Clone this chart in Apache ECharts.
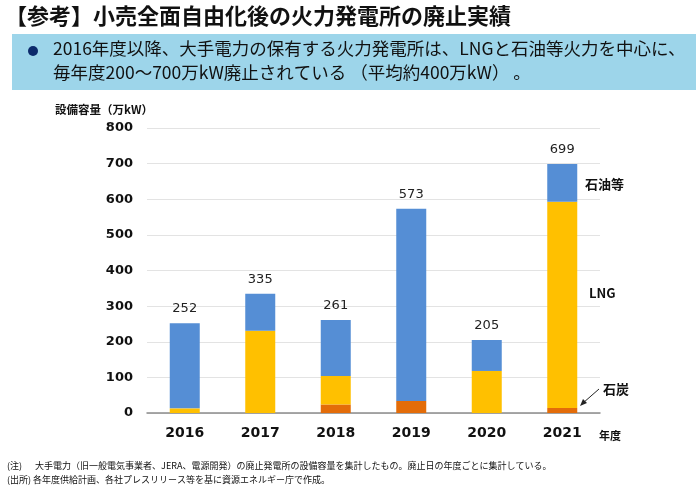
<!DOCTYPE html>
<html><head><meta charset="utf-8">
<script src="https://cdn.jsdelivr.net/npm/echarts@6/dist/echarts.min.js"></script>
<style>html,body{margin:0;padding:0;background:#fff}#c{width:700px;height:490px}</style>
</head><body><div id="c"></div>
<script>
const years = ['2016','2017','2018','2019','2020','2021'];
const coal = [0, 0, 24, 34, 0, 14];
const lng = [13, 231, 80, 0, 118, 579];
const oil = [239, 104, 157, 539, 87, 106];
const totals = [252, 335, 261, 573, 205, 699];
const yTicks = [0, 100, 200, 300, 400, 500, 600, 700, 800];

const JP = '"Noto Sans CJK JP", sans-serif';
const NUM = '"DejaVu Sans", Verdana, sans-serif';
const chart = echarts.init(document.getElementById('c'));
chart.setOption({
  animation: false,
  grid: {left: 147, right: 100, top: 128, bottom: 77},
  xAxis: {
    type: 'category', data: years,
    axisTick: {show: false},
    axisLine: {lineStyle: {color: '#8c8c8c', width: 1.5}},
    axisLabel: {color: '#111', fontWeight: 'bold', fontSize: 14, fontFamily: NUM, margin: 13}
  },
  yAxis: {
    type: 'value', min: yTicks[0], max: yTicks[yTicks.length - 1], interval: 100,
    axisLine: {show: false}, axisTick: {show: false},
    splitLine: {lineStyle: {color: '#e3e3e3', width: 1}},
    axisLabel: {color: '#111', fontWeight: 'bold', fontSize: 13, fontFamily: NUM, margin: 14}
  },
  series: [
    {name: '石炭', type: 'bar', stack: 'a', data: coal, barWidth: 30, itemStyle: {color: '#E36C09'}},
    {name: 'LNG', type: 'bar', stack: 'a', data: lng, barWidth: 30, itemStyle: {color: '#FFC000'}},
    {name: '石油等', type: 'bar', stack: 'a', data: oil, barWidth: 30, itemStyle: {color: '#558ED5'},
      label: {show: true, position: 'top', distance: 8, color: '#222', fontSize: 13, fontFamily: NUM,
        formatter: p => String(totals[p.dataIndex])}}
  ],
  graphic: [
    {type: 'text', left: 5, top: 5, style: {text: '【参考】小売全面自由化後の火力発電所の廃止実績', font: 'bold 22px ' + JP, fill: '#111'}},
    {type: 'rect', shape: {x: 12, y: 34, width: 684, height: 56}, style: {fill: '#9DD5EA'}},
    {type: 'circle', shape: {cx: 33, cy: 51, r: 5}, style: {fill: '#0B2A6B'}},
    {type: 'text', left: 53, top: 40, style: {text: '2016年度以降、大手電力の保有する火力発電所は、LNGと石油等火力を中心に、', font: '17.5px ' + JP, fill: '#111'}},
    {type: 'text', left: 53, top: 64, style: {text: '毎年度200～700万kW廃止されている （平均約400万kW） 。', font: '17.5px ' + JP, fill: '#111'}},
    {type: 'text', left: 55, top: 104, style: {text: '設備容量（万kW）', font: 'bold 11.5px ' + JP, fill: '#111'}},
    {type: 'text', left: 585, top: 178, style: {text: '石油等', font: 'bold 13px ' + JP, fill: '#111'}},
    {type: 'text', left: 589, top: 287, style: {text: 'LNG', font: 'bold 13px ' + JP, fill: '#111'}},
    {type: 'text', left: 603, top: 383, style: {text: '石炭', font: 'bold 13px ' + JP, fill: '#111'}},
    {type: 'line', shape: {x1: 599, y1: 389, x2: 583, y2: 403}, style: {stroke: '#222', lineWidth: 1}},
    {type: 'polygon', shape: {points: [[580, 406], [583, 399], [587, 403]]}, style: {fill: '#222'}},
    {type: 'text', left: 599, top: 430, style: {text: '年度', font: 'bold 11px ' + JP, fill: '#111'}},
    {type: 'text', left: 7, top: 461, style: {text: '(注)　  大手電力（旧一般電気事業者、JERA、電源開発）の廃止発電所の設備容量を集計したもの。廃止日の年度ごとに集計している。', font: '9px ' + JP, fill: '#111'}},
    {type: 'text', left: 7, top: 475, style: {text: '(出所) 各年度供給計画、各社プレスリリース等を基に資源エネルギー庁で作成。', font: '9px ' + JP, fill: '#111'}}
  ]
});
</script></body></html>
